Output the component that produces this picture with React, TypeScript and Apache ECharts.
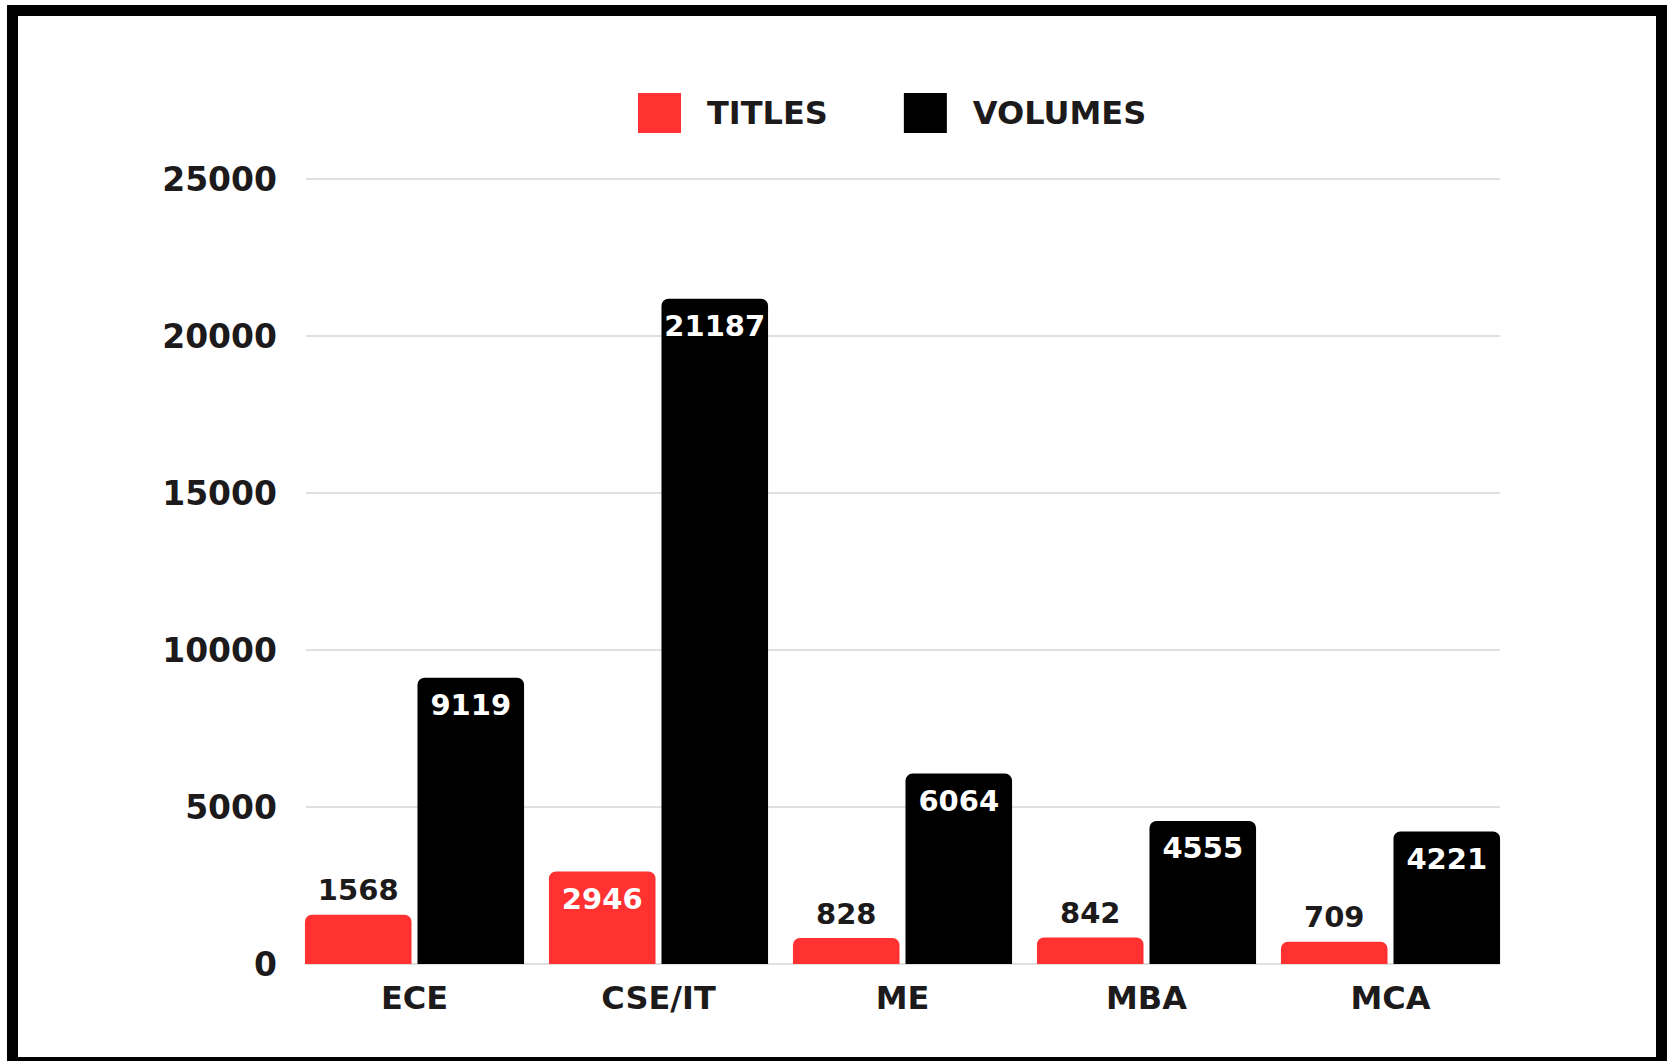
import React, { useEffect, useRef } from "react";
import * as echarts from "echarts";

const categories = ["ECE", "CSE/IT", "ME", "MBA", "MCA"];
const titles = [1568, 2946, 828, 842, 709];
const volumes = [9119, 21187, 6064, 4555, 4221];
const yTicks = { min: 0, max: 25000, interval: 5000 };

const FONT = "DejaVu Sans";
const RED = "#FF3131";
const DARK = "#1c1a1a";

export default function App() {
  const ref = useRef<HTMLDivElement>(null);
  useEffect(() => {
    if (!ref.current) return;
    const chart = echarts.init(ref.current, null, { renderer: "svg" });
    const insideIdx = titles.indexOf(Math.max(...titles));
    chart.setOption({
      animation: false,
      backgroundColor: "#ffffff",
      legend: {
        left: 633,
        top: 88,
        itemWidth: 43,
        itemHeight: 40,
        itemGap: 76,
        icon: "rect",
        textStyle: {
          fontFamily: FONT,
          fontWeight: "bold",
          fontSize: 32,
          color: DARK,
          padding: [0, 0, 0, 21],
        },
        data: ["TITLES", "VOLUMES"],
      },
      grid: [
        { left: 292.5, right: 158.5, top: 179, bottom: 97, containLabel: false },
        { left: 306, right: 171, top: 179, bottom: 97, containLabel: false },
      ],
      xAxis: [
        {
          type: "category",
          gridIndex: 0,
          data: categories,
          axisLine: { show: false },
          axisTick: { show: false },
          axisLabel: {
            fontFamily: FONT,
            fontWeight: "bold",
            fontSize: 32,
            color: DARK,
            margin: 18,
          },
        },
        {
          type: "value",
          gridIndex: 1,
          min: 0,
          max: 1,
          show: false,
        },
      ],
      yAxis: [
        {
          type: "value",
          gridIndex: 0,
          min: yTicks.min,
          max: yTicks.max,
          interval: yTicks.interval,
          show: false,
          splitLine: { show: false },
        },
        {
          type: "value",
          gridIndex: 1,
          min: yTicks.min,
          max: yTicks.max,
          interval: yTicks.interval,
          axisLine: { show: false },
          axisTick: { show: false },
          splitLine: { show: true, showMinLine: true, lineStyle: { color: "#e0e0e0", width: 2 } },
          axisLabel: {
            fontFamily: FONT,
            fontWeight: "bold",
            fontSize: 33,
            color: DARK,
            margin: 29,
            formatter: (v: number) => String(v),
          },
        },
      ],
      series: [
        {
          name: "TITLES",
          type: "bar",
          xAxisIndex: 0,
          yAxisIndex: 0,
          barGap: "5.6%",
          barCategoryGap: "10.2%",
          itemStyle: { color: RED, borderRadius: [7, 7, 0, 0] },
          data: titles.map((v, i) => ({
            value: v,
            label:
              i === insideIdx
                ? { position: "insideTop", distance: 13, color: "#ffffff" }
                : { position: "top", distance: 10, color: DARK },
          })),
          label: {
            show: true,
            fontFamily: FONT,
            fontWeight: "bold",
            fontSize: 29,
          },
        },
        {
          name: "VOLUMES",
          type: "bar",
          xAxisIndex: 0,
          yAxisIndex: 0,
          itemStyle: { color: "#000000", borderRadius: [7, 7, 0, 0] },
          data: volumes,
          label: {
            show: true,
            position: "insideTop",
            distance: 13,
            color: "#ffffff",
            fontFamily: FONT,
            fontWeight: "bold",
            fontSize: 29,
          },
        },
      ],
      graphic: [
        {
          type: "rect",
          shape: { x: 12.5, y: 10.5, width: 1649, height: 1052 },
          style: { fill: "none", stroke: "#000000", lineWidth: 11 },
          silent: true,
        },
      ],
    });
    return () => chart.dispose();
  }, []);
  return (
    <div
      ref={ref}
      style={{ position: "fixed", left: 0, top: 0, width: 1671, height: 1061 }}
    />
  );
}
